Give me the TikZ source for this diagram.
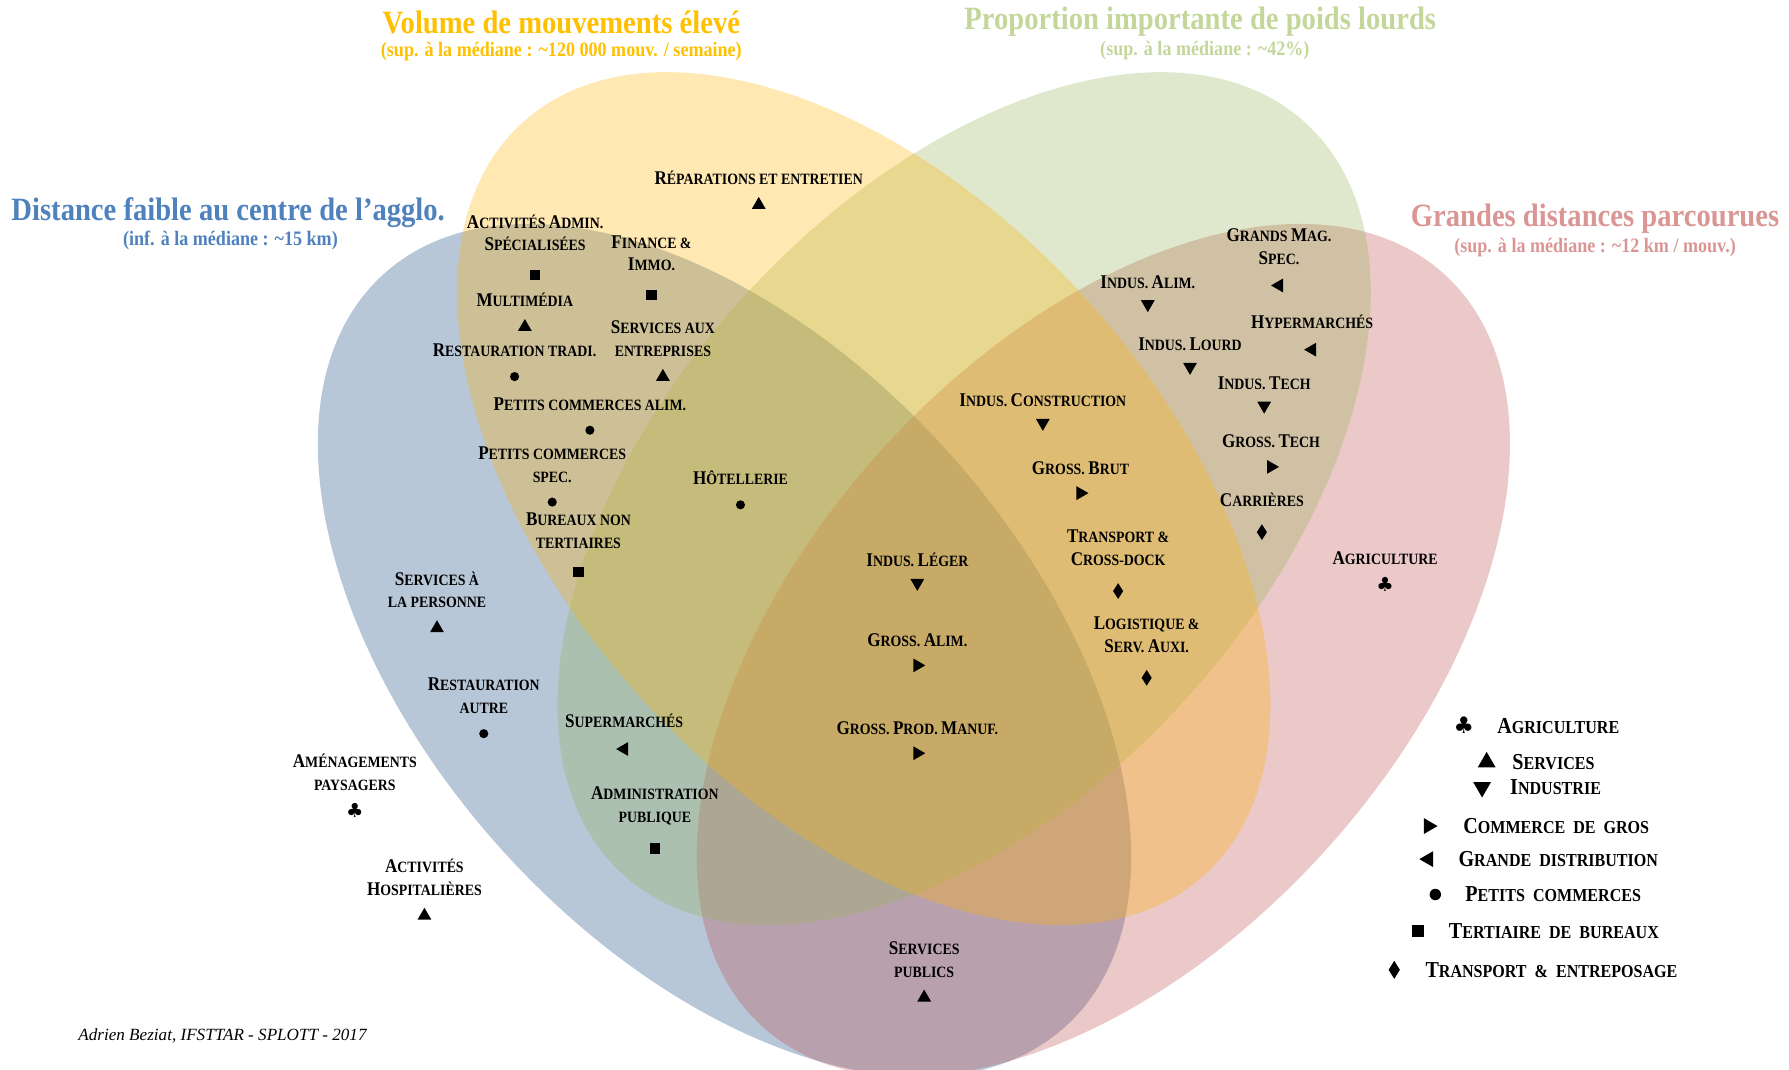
\documentclass[tikz,border=0pt]{standalone}
\usepackage{fontspec}
\setmainfont{Liberation Serif}
\newfontfamily\narrowserif{Liberation Serif}[FakeStretch=0.88]
\newfontfamily\symbfont{DejaVu Sans}
\usetikzlibrary{positioning}
\usetikzlibrary{shapes.geometric}

\definecolor{distblue}{RGB}{18,68,125}
\definecolor{volyellow}{RGB}{255,178,0}
\definecolor{pdsgreen}{RGB}{148,178,85}
\definecolor{grdred}{RGB}{188,75,72}
\definecolor{titblue}{RGB}{79,129,189}
\definecolor{tityellow}{RGB}{255,192,0}
\definecolor{titgreen}{RGB}{196,215,155}
\definecolor{titred}{RGB}{218,150,148}

% grandes initiales des petites capitales
\newcommand{\Ini}[1]{{\fontsize{17}{20}\selectfont #1}}
\newcommand{\LIni}[1]{{\fontsize{20}{24}\selectfont #1}}
\newcommand{\widespace}{\spaceskip=7pt plus 1pt\relax}

\tikzset{
  zone/.style = {fill opacity=0.3},
  ttl/.style = {inner sep=0pt, font=\narrowserif\bfseries\fontsize{28.5}{32}\selectfont},
  subttl/.style = {inner sep=0pt, font=\narrowserif\bfseries\fontsize{18}{20}\selectfont},
  lbl/.style = {align=center, inner sep=0pt, font=\narrowserif\bfseries\fontsize{13.8}{20}\selectfont},
  lgtxt/.style = {inner sep=0pt, font=\narrowserif\bfseries\fontsize{16}{19}\selectfont\widespace},
  mkbase/.style = {fill=black, inner sep=0pt},
  mkup/.style = {mkbase, regular polygon, regular polygon sides=3, minimum size=14pt, node distance=10pt},
  mkdown/.style = {mkup, shape border rotate=180},
  mkright/.style = {mkup, shape border rotate=-90, node distance=12pt},
  mkleft/.style = {mkup, shape border rotate=90, node distance=14pt},
  mkdot/.style = {mkbase, circle, minimum size=8pt, node distance=13pt},
  mksq/.style = {mkbase, rectangle, minimum size=9pt, node distance=16pt},
  mkdia/.style = {mkbase, diamond, minimum width=9pt, minimum height=14pt, node distance=15pt},
  mkclub/.style = {inner sep=0pt, font=\symbfont\fontsize{17}{17}\selectfont, node distance=11pt}
}

\begin{document}
\begin{tikzpicture}[x=1pt, y=-1pt]
  \useasboundingbox (0,0) rectangle (1568,937);

  % les quatre ensembles
  \fill[zone, distblue, rotate around={-47.8:(635,570)}] (635,570) ellipse [x radius=445pt, y radius=262pt];
  \fill[zone, grdred, rotate around={47.8:(967,570)}] (967,570) ellipse [x radius=445pt, y radius=262pt];
  \fill[zone, pdsgreen, rotate around={47.8:(845,437)}] (845,437) ellipse [x radius=445pt, y radius=262pt];
  \fill[zone, volyellow, rotate around={-47.8:(757,437)}] (757,437) ellipse [x radius=445pt, y radius=262pt];

  % titres
  \node (tvol) at (492,20) [ttl, tityellow] {Volume de mouvements élevé};
  \node (svol) at (492,45) [subttl, tityellow] {(sup. à la médiane : \textasciitilde 120 000 mouv. / semaine)};
  \node (tpds) at (1052,19) [ttl, titgreen] {Proportion importante de poids lourds};
  \node (spds) at (1056,44) [subttl, titgreen] {(sup. à la médiane : \textasciitilde 42\%)};
  \node (tdst) at (200,186) [ttl, titblue] {Distance faible au centre de l’agglo.};
  \node (sdst) at (202,211) [subttl, titblue] {(inf. à la médiane : \textasciitilde 15 km)};
  \node (tgrd) at (1398,192) [ttl, titred] {Grandes distances parcourues};
  \node (sgrd) at (1398,217) [subttl, titred] {(sup. à la médiane : \textasciitilde 12 km / mouv.)};

  % secteurs
  \node (rep) at (665,156) [lbl] {\Ini{R}ÉPARATIONS ET ENTRETIEN};
  \node (repm) [mkup, below=of rep] {};
  \node (adm) at (469,204) [lbl] {\Ini{A}CTIVITÉS \Ini{A}DMIN.\\\Ini{S}PÉCIALISÉES};
  \node (admm) [mksq, below=of adm] {};
  \node (fin) at (571,222) [lbl] {\Ini{F}INANCE \&\\\Ini{I}MMO.};
  \node (finm) [mksq, below=of fin] {};
  \node (mul) at (460,263) [lbl] {\Ini{M}ULTIMÉDIA};
  \node (mulm) [mkup, below=of mul] {};
  \node (sae) at (581,297) [lbl] {\Ini{S}ERVICES AUX\\ENTREPRISES};
  \node (saem) [mkup, below=of sae] {};
  \node (rtr) at (451,307) [lbl] {\Ini{R}ESTAURATION TRADI.};
  \node (rtrm) [mkdot, below=of rtr] {};
  \node (pca) at (517,354) [lbl] {\Ini{P}ETITS COMMERCES ALIM.};
  \node (pcam) [mkdot, below=of pca] {};
  \node (pcs) at (484,407) [lbl] {\Ini{P}ETITS COMMERCES\\SPEC.};
  \node (pcsm) [mkdot, below=of pcs] {};
  \node (hot) at (649,419) [lbl] {\Ini{H}ÔTELLERIE};
  \node (hotm) [mkdot, below=of hot] {};
  \node (bnt) at (507,465) [lbl] {\Ini{B}UREAUX NON\\TERTIAIRES};
  \node (bntm) [mksq, below=of bnt] {};
  \node (sap) at (383,517) [lbl] {\Ini{S}ERVICES À\\LA PERSONNE};
  \node (sapm) [mkup, below=of sap] {};
  \node (rau) at (424,610) [lbl] {\Ini{R}ESTAURATION\\AUTRE};
  \node (raum) [mkdot, below=of rau] {};
  \node (sup) at (547,632) [lbl] {\Ini{S}UPERMARCHÉS};
  \node (supm) [mkleft, below=of sup] {};
  \node (amp) at (311,677) [lbl] {\Ini{A}MÉNAGEMENTS\\PAYSAGERS};
  \node (ampm) [mkclub, below=of amp] {♣};
  \node (adp) at (574,706) [lbl] {\Ini{A}DMINISTRATION\\PUBLIQUE};
  \node (adpm) [mksq, below=of adp] {};
  \node (ahs) at (372,769) [lbl] {\Ini{A}CTIVITÉS\\\Ini{H}OSPITALIÈRES};
  \node (ahsm) [mkup, below=of ahs] {};
  \node (spu) at (810,841) [lbl] {\Ini{S}ERVICES\\PUBLICS};
  \node (spum) [mkup, below=of spu] {};
  \node (ile) at (804,491) [lbl] {\Ini{I}NDUS. \Ini{L}ÉGER};
  \node (ilem) [mkdown, below=of ile] {};
  \node (gal) at (804,561) [lbl] {\Ini{G}ROSS. \Ini{A}LIM.};
  \node (galm) [mkright, below=of gal] {};
  \node (gpm) at (804,638) [lbl] {\Ini{G}ROSS. \Ini{P}ROD. \Ini{M}ANUF.};
  \node (gpmm) [mkright, below=of gpm] {};
  \node (tcd) at (980,480) [lbl] {\Ini{T}RANSPORT \&\\\Ini{C}ROSS-DOCK};
  \node (tcdm) [mkdia, below=of tcd] {};
  \node (lsa) at (1005,556) [lbl] {\Ini{L}OGISTIQUE \&\\\Ini{S}ERV. \Ini{A}UXI.};
  \node (lsam) [mkdia, below=of lsa] {};
  \node (ico) at (914,351) [lbl] {\Ini{I}NDUS. \Ini{C}ONSTRUCTION};
  \node (icom) [mkdown, below=of ico] {};
  \node (gbr) at (947,410) [lbl] {\Ini{G}ROSS. \Ini{B}RUT};
  \node (gbrm) [mkright, below=of gbr] {};
  \node (ial) at (1006,247) [lbl] {\Ini{I}NDUS. \Ini{A}LIM.};
  \node (ialm) [mkdown, below=of ial] {};
  \node (ilo) at (1043,302) [lbl] {\Ini{I}NDUS. \Ini{L}OURD};
  \node (ilom) [mkdown, below=of ilo] {};
  \node (gms) at (1121,216) [lbl] {\Ini{G}RANDS \Ini{M}AG.\\\Ini{S}PEC.};
  \node (gmsm) [mkleft, below=of gms] {};
  \node (hyp) at (1150,282) [lbl] {\Ini{H}YPERMARCHÉS};
  \node (hypm) [mkleft, below=of hyp] {};
  \node (ite) at (1108,336) [lbl] {\Ini{I}NDUS. \Ini{T}ECH};
  \node (item) [mkdown, below=of ite] {};
  \node (gte) at (1114,387) [lbl] {\Ini{G}ROSS. \Ini{T}ECH};
  \node (gtem) [mkright, below=of gte] {};
  \node (car) at (1106,438) [lbl] {\Ini{C}ARRIÈRES};
  \node (carm) [mkdia, below=of car] {};
  \node (agr) at (1214,489) [lbl] {\Ini{A}GRICULTURE};
  \node (agrm) [mkclub, below=of agr] {♣};

  % legende
  \node (lg1) at (1283,636) [mkclub, font=\symbfont\fontsize{20}{20}\selectfont] {♣};
  \node (lg1t) [lgtxt, right=20pt of lg1] {\LIni{A}GRICULTURE};
  \node (lg2) at (1303,668) [mkup, minimum size=18pt] {};
  \node (lg2t) [lgtxt, right=17pt of lg2] {\LIni{S}ERVICES};
  \node (lg3) at (1299,690) [mkdown, minimum size=18pt] {};
  \node (lg3t) [lgtxt, right=19pt of lg3] {\LIni{I}NDUSTRIE};
  \node (lg4) at (1252,724) [mkright, minimum size=16pt] {};
  \node (lg4t) [lgtxt, right=22pt of lg4] {\LIni{C}OMMERCE DE GROS};
  \node (lg5) at (1252,753) [mkleft, minimum size=16pt] {};
  \node (lg5t) [lgtxt, right=22pt of lg5] {\LIni{G}RANDE DISTRIBUTION};
  \node (lg6) at (1258,784) [mkdot, minimum size=10pt] {};
  \node (lg6t) [lgtxt, right=21pt of lg6] {\LIni{P}ETITS COMMERCES};
  \node (lg7) at (1243,816) [mksq, minimum size=11pt] {};
  \node (lg7t) [lgtxt, right=21pt of lg7] {\LIni{T}ERTIAIRE DE BUREAUX};
  \node (lg8) at (1222,850) [mkdia, minimum width=10pt, minimum height=16pt] {};
  \node (lg8t) [lgtxt, right=22pt of lg8] {\LIni{T}RANSPORT \& ENTREPOSAGE};

  \node (sig) at (195,908) [font=\itshape\fontsize{15}{15}\selectfont] {Adrien Beziat, IFSTTAR - SPLOTT - 2017};
\end{tikzpicture}
\end{document}
